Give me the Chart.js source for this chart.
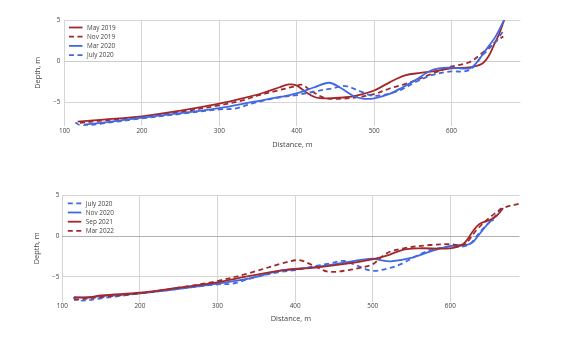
<!DOCTYPE html>
<html>
<head>
<meta charset="utf-8">
<script src="https://cdn.jsdelivr.net/npm/chart.js@4.4.1/dist/chart.umd.min.js"></script>
<style>
  html, body { margin: 0; padding: 0; background: #fff; }
  #wrap { position: relative; width: 567px; height: 337px; }
  canvas { position: absolute; left: 0; }
  #profileTop { top: 0; }
  #profileBottom { top: 168px; }
</style>
</head>
<body>
<div id="wrap">
  <canvas id="profileTop" width="567" height="168"></canvas>
  <canvas id="profileBottom" width="567" height="169"></canvas>
</div>
<script>
// survey profiles: distance along line (m) and depth (m)
const may2019Dist = [117, 150, 200, 250, 300, 330, 356, 378, 390, 400, 412, 425, 440, 460, 480, 500, 520, 540, 560, 580, 600, 625, 640, 648, 655, 662, 668];
const may2019Depth = [-7.4, -7.15, -6.75, -6.05, -5.2, -4.55, -3.9, -3.2, -2.85, -3.0, -3.8, -4.45, -4.55, -4.45, -4.15, -3.6, -2.6, -1.75, -1.45, -1.2, -0.9, -0.75, -0.3, 0.6, 2.0, 3.4, 5.0];

const nov2019Dist = [120, 150, 200, 250, 300, 330, 350, 371, 397, 407, 418, 436, 455, 475, 500, 520, 537, 555, 571, 597, 623, 640, 655, 667];
const nov2019Depth = [-7.55, -7.25, -6.85, -6.2, -5.4, -4.8, -4.2, -3.7, -3.1, -2.9, -3.6, -4.5, -4.6, -4.45, -4.05, -3.35, -2.9, -2.3, -1.7, -0.75, -0.15, 1.0, 2.2, 3.0];

const mar2020Dist = [125, 150, 200, 250, 300, 345, 380, 400, 423, 442, 457, 474, 487, 500, 520, 537, 554, 575, 597, 623, 631, 644, 657, 668];
const mar2020Depth = [-7.75, -7.5, -6.9, -6.35, -5.75, -4.95, -4.35, -3.95, -3.2, -2.65, -3.3, -4.3, -4.6, -4.55, -4.0, -3.2, -2.3, -1.1, -0.8, -0.9, -0.35, 1.3, 3.0, 5.0];

const july2020Dist = [114, 122, 150, 200, 250, 300, 320, 345, 380, 400, 424, 445, 463, 482, 500, 522, 537, 555, 575, 597, 623, 640, 657, 668];
const july2020Depth = [-7.5, -7.9, -7.6, -7.0, -6.45, -5.9, -5.8, -5.1, -4.4, -4.15, -3.7, -3.35, -3.05, -3.7, -4.25, -3.9, -3.4, -2.5, -1.7, -1.3, -1.1, 0.7, 2.35, 3.8];

const nov2020Dist = [115, 150, 200, 250, 300, 340, 383, 426, 469, 499, 510, 523, 548, 574, 596, 610, 626, 638, 651, 656];
const nov2020Depth = [-7.55, -7.35, -7.0, -6.45, -5.8, -5.2, -4.2, -3.8, -3.15, -2.75, -2.95, -3.1, -2.7, -1.9, -1.3, -1.1, -0.95, 0.3, 1.75, 2.0];

const sep2021Dist = [115, 135, 150, 200, 250, 300, 340, 383, 426, 469, 499, 518, 540, 560, 600, 617, 630, 638, 651, 660, 668];
const sep2021Depth = [-7.45, -7.5, -7.25, -6.9, -6.3, -5.65, -4.9, -4.2, -3.85, -3.35, -2.85, -2.4, -1.65, -1.5, -1.5, -0.95, 0.7, 1.5, 1.95, 2.5, 3.4];

const mar2022Dist = [115, 150, 200, 250, 297, 340, 383, 405, 422, 443, 469, 490, 500, 518, 540, 574, 600, 617, 634, 647, 668, 690];
const mar2022Depth = [-7.8, -7.45, -7.0, -6.3, -5.55, -4.55, -3.35, -2.95, -3.55, -4.35, -4.15, -3.75, -3.45, -2.1, -1.5, -1.1, -1.0, -1.1, 0.75, 1.95, 3.4, 3.95];

const RED = '#a3282b';
const BLUE = '#4169e1';
const DASH = [5, 3.5];
const TEXT = '#444';

Chart.defaults.font.family = '"Open Sans", sans-serif';
Chart.defaults.color = TEXT;

function points(xs, ys) {
  return xs.map((x, i) => ({ x: x, y: ys[i] }));
}

function profile(label, xs, ys, color, dashed) {
  return {
    label: label,
    data: points(xs, ys),
    borderColor: color,
    backgroundColor: color,
    borderWidth: 1.8,
    borderDash: dashed ? DASH : [],
    pointRadius: 0,
    tension: 0.35,
    fill: false
  };
}

// small legend in the upper left corner of the plot area
const cornerLegend = {
  id: 'cornerLegend',
  afterDraw(chart, args, opts) {
    const ctx = chart.ctx;
    const area = chart.chartArea;
    ctx.save();
    ctx.font = '6.4px "Open Sans", sans-serif';
    ctx.textBaseline = 'middle';
    ctx.textAlign = 'left';
    chart.data.datasets.forEach((ds, i) => {
      const y = area.top + opts.dy + i * opts.gap;
      const x0 = area.left + opts.dx;
      ctx.strokeStyle = ds.borderColor;
      ctx.lineWidth = ds.borderWidth;
      ctx.setLineDash(ds.borderDash);
      ctx.beginPath();
      ctx.moveTo(x0, y);
      ctx.lineTo(x0 + 13.5, y);
      ctx.stroke();
      ctx.setLineDash([]);
      ctx.fillStyle = TEXT;
      ctx.fillText(ds.label, x0 + 18, y + 0.5);
    });
    ctx.restore();
  }
};

function makeProfileChart(id, datasets, box) {
  const n = datasets.length;
  datasets.forEach((ds, i) => { ds.order = n - i; });
  const canvas = document.getElementById(id);
  return new Chart(canvas.getContext('2d'), {
    type: 'line',
    data: { datasets: datasets },
    options: {
      responsive: false,
      animation: false,
      devicePixelRatio: 1,
      layout: { padding: { top: box.top, right: 567 - box.right, left: 0, bottom: 0 } },
      plugins: {
        legend: { display: false },
        tooltip: { enabled: false },
        cornerLegend: { dx: box.legendDx, dy: box.legendDy, gap: 9.2 }
      },
      scales: {
        x: {
          type: 'linear',
          min: 100,
          max: 689,
          border: { display: false },
          grid: { color: '#d6d6d6', drawTicks: false, lineWidth: 1 },
          ticks: {
            stepSize: 100,
            includeBounds: false,
            maxRotation: 0,
            padding: box.xTickPad,
            font: { size: 6.4 },
            color: TEXT
          },
          title: {
            display: true,
            text: 'Distance, m',
            font: { size: 7.4 },
            color: TEXT,
            padding: { top: 0, bottom: box.xTitlePad }
          },
          afterFit(scale) { scale.height = canvas.height - box.bottom; }
        },
        y: {
          type: 'linear',
          min: box.yMin,
          max: 5,
          border: { display: false },
          grid: {
            color: ctx => (ctx.tick && ctx.tick.value === 0) ? box.zeroColor : '#d6d6d6',
            drawTicks: false,
            lineWidth: 1
          },
          ticks: {
            stepSize: 5,
            includeBounds: false,
            padding: box.yTickPad,
            font: { size: 6.4 },
            color: TEXT,
            callback: v => v < 0 ? '\u2212' + Math.abs(v) : String(v)
          },
          title: {
            display: true,
            text: 'Depth, m',
            font: { size: 7.4 },
            color: TEXT,
            padding: { top: box.yTitlePad, bottom: 0 }
          },
          afterFit(scale) { scale.width = box.left; }
        }
      }
    },
    plugins: [cornerLegend]
  });
}

makeProfileChart('profileTop', [
  profile('May 2019', may2019Dist, may2019Depth, RED, false),
  profile('Nov 2019', nov2019Dist, nov2019Depth, RED, true),
  profile('Mar 2020', mar2020Dist, mar2020Depth, BLUE, false),
  profile('July 2020', july2020Dist, july2020Depth, BLUE, true)
], {
  left: 64.5, right: 520.4, top: 20, bottom: 125.8, yMin: -7.9,
  xTickPad: 1.5, yTickPad: 4, xTitlePad: 18.6, yTitlePad: 33.6,
  legendDx: 4.5, legendDy: 7.5, zeroColor: '#cccccc'
});

makeProfileChart('profileBottom', [
  profile('July 2020', july2020Dist, july2020Depth, BLUE, true),
  profile('Nov 2020', nov2020Dist, nov2020Depth, BLUE, false),
  profile('Sep 2021', sep2021Dist, sep2021Depth, RED, false),
  profile('Mar 2022', mar2022Dist, mar2022Depth, RED, true)
], {
  left: 62.3, right: 519.4, top: 27, bottom: 133.6, yMin: -8,
  xTickPad: 1, yTickPad: 3, xTitlePad: 13.6, yTitlePad: 32.6,
  legendDx: 5.5, legendDy: 8.3, zeroColor: '#b0b0b0'
});
</script>
</body>
</html>
